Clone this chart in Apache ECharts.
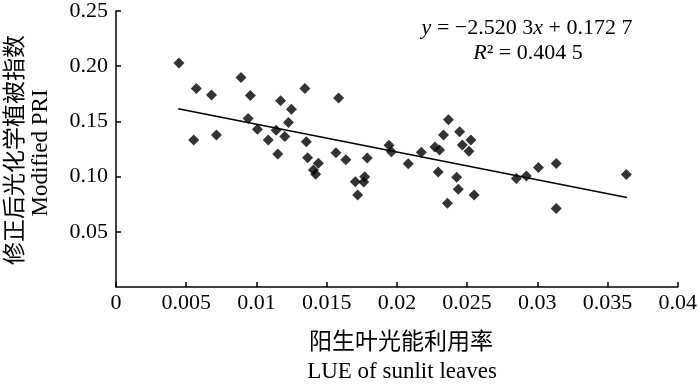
<!DOCTYPE html>
<html>
<head>
<meta charset="utf-8">
<script src="https://cdn.jsdelivr.net/npm/echarts@6/dist/echarts.min.js"></script>
<style>
html,body{margin:0;padding:0;background:#fff;}
#chart{width:700px;height:386px;}
</style>
</head>
<body>
<div id="chart"></div>
<script>
// LUE of sunlit leaves (x) and Modified PRI (y)
const lueSunlit = [
  0.00448, 0.00572, 0.00680, 0.00553, 0.00715, 0.00890, 0.00957, 0.00941, 0.01007, 0.01084,
  0.01152, 0.01140, 0.01172, 0.01249, 0.01228, 0.01202, 0.01345, 0.01355, 0.01364, 0.01441,
  0.01406, 0.01422, 0.01585, 0.01566, 0.01637, 0.01789, 0.01704, 0.01771, 0.01764, 0.01721,
  0.01944, 0.01961, 0.02081, 0.02174, 0.02271, 0.02304, 0.02367, 0.02332, 0.02447, 0.02527,
  0.02466, 0.02513, 0.02294, 0.02426, 0.02437, 0.02550, 0.02360, 0.02851, 0.02922, 0.03008,
  0.03135, 0.03634, 0.03135
];
const modifiedPRI = [
  0.2029, 0.1798, 0.1738, 0.1331, 0.1376, 0.1898, 0.1735, 0.1527, 0.1428, 0.1331,
  0.1204, 0.1419, 0.1686, 0.1611, 0.1491, 0.1364, 0.1798, 0.1316, 0.1171, 0.1120,
  0.1060, 0.1021, 0.1711, 0.1216, 0.1153, 0.1168, 0.0954, 0.0999, 0.0951, 0.0834,
  0.1283, 0.1225, 0.1117, 0.1220, 0.1268, 0.1241, 0.1514, 0.1376, 0.1406, 0.1331,
  0.1286, 0.1229, 0.1042, 0.0994, 0.0886, 0.0834, 0.0759, 0.0983, 0.1006, 0.1083,
  0.1119, 0.1019, 0.0712
];
// fitted line end points as drawn
const fitX = [0.00443, 0.03638];
const fitY = [0.1615, 0.0810];

const equationText = ['{i|y} = −2.520 3{i|x} + 0.172 7', '{i|R}² = 0.404 5'];
const xTitle = ['阳生叶光能利用率', 'LUE of sunlit leaves'];
const yTitle = ['修正后光化学植被指数', 'Modified PRI'];

const serif = "'Liberation Serif', 'Times New Roman', serif";
const cjk = "'Liberation Serif', 'Noto Sans CJK SC', serif";

const chart = echarts.init(document.getElementById('chart'), null, {renderer: 'canvas'});
const scatterData = lueSunlit.map((x, i) => [x, modifiedPRI[i]]);
const lineData = fitX.map((x, i) => [x, fitY[i]]);

chart.setOption({
  animation: false,
  backgroundColor: '#fff',
  grid: {left: 116, right: 17, top: 11, bottom: 99, containLabel: false},
  xAxis: {
    type: 'value', min: 0, max: 0.04, interval: 0.005,
    axisLine: {lineStyle: {color: '#000', width: 1.5}},
    axisTick: {inside: true, length: 5, lineStyle: {color: '#000', width: 1.5}},
    axisLabel: {color: '#000', fontFamily: serif, fontSize: 22, margin: 5},
    splitLine: {show: false}
  },
  yAxis: {
    type: 'value', min: 0, max: 0.25, interval: 0.05,
    axisLine: {show: true, lineStyle: {color: '#000', width: 1.5}},
    axisTick: {show: true, inside: true, length: 5, lineStyle: {color: '#000', width: 1.5}},
    axisLabel: {color: '#000', fontFamily: serif, fontSize: 22, margin: 8, showMinLabel: false,
      formatter: v => v.toFixed(2)},
    splitLine: {show: false}
  },
  series: [
    {type: 'scatter', data: scatterData, symbol: 'diamond', symbolSize: 11,
     itemStyle: {color: '#000'}, z: 3},
    {type: 'line', data: lineData, showSymbol: false, symbol: 'none',
     lineStyle: {color: '#000', width: 1.5}, z: 2}
  ],
  graphic: [
    {type: 'text', x: 527, y: 28, style: {text: equationText[0], fill: '#000', font: '22px ' + serif,
      align: 'center', verticalAlign: 'middle',
      rich: {i: {fontStyle: 'italic', fontFamily: serif, fontSize: 22, fill: '#000'}}}},
    {type: 'text', x: 528, y: 53, style: {text: equationText[1], fill: '#000', font: '22px ' + serif,
      align: 'center', verticalAlign: 'middle',
      rich: {i: {fontStyle: 'italic', fontFamily: serif, fontSize: 22, fill: '#000'}}}},
    {type: 'text', x: 401, y: 343, style: {text: xTitle[0], fill: '#000', font: '23px ' + cjk,
      align: 'center', verticalAlign: 'middle'}},
    {type: 'text', x: 402, y: 372, style: {text: xTitle[1], fill: '#000', font: '23px ' + serif,
      align: 'center', verticalAlign: 'middle'}},
    {type: 'text', x: 16, y: 150, rotation: Math.PI / 2, style: {text: yTitle[0], fill: '#000',
      font: '23px ' + cjk, align: 'center', verticalAlign: 'middle'}},
    {type: 'text', x: 41, y: 153, rotation: Math.PI / 2, style: {text: yTitle[1], fill: '#000',
      font: '23px ' + serif, align: 'center', verticalAlign: 'middle'}}
  ]
});
</script>
</body>
</html>
